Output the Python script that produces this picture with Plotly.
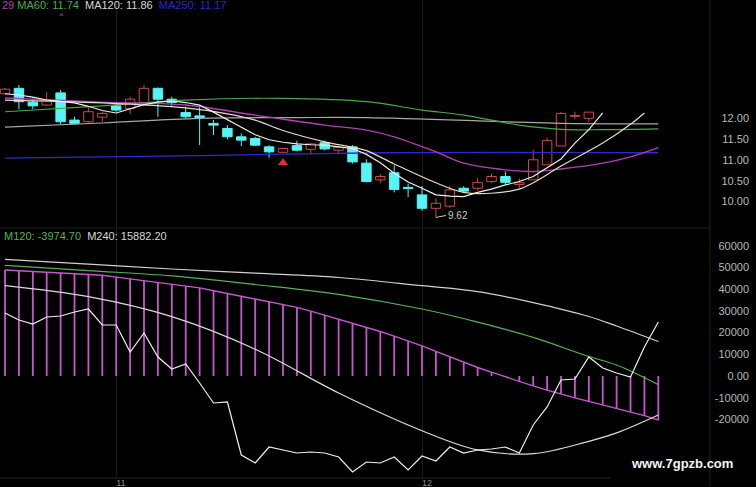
import plotly.graph_objects as go

# ---------------- upper panel: daily candles (bars 43-47 lie above the visible area) ----------------
candle_idx = list(range(43))
opens  = [12.58, 12.71, 12.38, 12.31, 12.60, 11.95, 11.91, 12.02, 12.29, 12.23, 12.37, 12.71, 12.45, 12.13,
          12.05, 11.87, 11.75, 11.55, 11.51, 11.31, 11.18, 11.34, 11.25, 11.41, 11.23, 11.31, 10.92, 10.52,
          10.69, 10.34, 10.16, 9.84, 9.89, 10.32, 10.32, 10.48, 10.60, 10.41, 10.52, 10.88, 11.33, 12.04, 11.99]
highs  = [12.72, 12.79, 12.47, 12.62, 12.67, 12.03, 12.26, 12.15, 12.39, 12.51, 12.79, 12.73, 12.51, 12.27,
          12.31, 11.95, 11.83, 11.63, 11.55, 11.35, 11.29, 11.46, 11.40, 11.46, 11.31, 11.35, 11.01, 10.66,
          10.87, 10.43, 10.37, 10.08, 10.37, 10.37, 10.56, 10.67, 10.72, 10.56, 11.24, 11.52, 12.14, 12.15, 12.14]
lows   = [12.56, 12.21, 12.21, 12.29, 11.85, 11.85, 11.89, 11.91, 12.15, 12.09, 12.35, 12.03, 12.29, 11.99,
          11.35, 11.59, 11.49, 11.33, 11.33, 11.05, 11.16, 11.20, 11.12, 11.23, 11.16, 10.91, 10.46, 10.44,
          10.22, 10.11, 9.78, 9.62, 9.85, 10.20, 10.27, 10.44, 10.40, 10.32, 10.52, 10.88, 11.33, 11.97, 11.91]
closes = [12.69, 12.39, 12.29, 12.43, 11.91, 11.87, 12.15, 12.11, 12.19, 12.45, 12.71, 12.45, 12.37, 12.03,
          12.01, 11.83, 11.55, 11.47, 11.35, 11.19, 11.27, 11.23, 11.38, 11.26, 11.30, 10.95, 10.48, 10.60,
          10.29, 10.31, 9.84, 9.96, 10.28, 10.25, 10.46, 10.60, 10.46, 10.45, 11.00, 11.46, 12.11, 12.06, 12.14]

ma5_idx = list(range(44))
ma5_val = [12.58, 12.55, 12.50, 12.43, 12.40, 12.36, 12.28, 12.18, 12.12, 12.22, 12.32, 12.38, 12.41, 12.37,
           12.31, 12.14, 11.95, 11.78, 11.60, 11.48, 11.42, 11.38, 11.36, 11.35, 11.31, 11.27, 11.13, 10.93,
           10.68, 10.47, 10.32, 10.16, 10.13, 10.12, 10.22, 10.30, 10.40, 10.48, 10.60, 10.80, 11.02, 11.40,
           11.72, 12.12]
ma10_idx = [0, 7, 13, 16, 18, 20, 23, 25, 26, 28, 31, 33, 35, 37, 38, 40, 43, 45, 46]
ma10_val = [12.43, 12.36, 12.24, 12.10, 11.95, 11.70, 11.43, 11.30, 11.22, 10.90, 10.45, 10.22, 10.20,
            10.30, 10.45, 10.85, 11.40, 11.85, 12.12]
ma30_idx = [0, 7, 13, 18, 23, 26, 28, 31, 33, 36, 38, 40, 43, 45, 47]
ma30_val = [12.48, 12.38, 12.31, 12.07, 11.83, 11.71, 11.55, 11.19, 10.92, 10.76, 10.72, 10.78, 10.92, 11.07, 11.29]
ma60_idx = [0, 7, 13, 20, 26, 30, 33, 37, 40, 43, 47]
ma60_val = [12.15, 12.29, 12.43, 12.47, 12.39, 12.19, 12.07, 11.83, 11.73, 11.72, 11.74]
ma120_idx = [0, 7, 14, 21, 26, 36, 40, 47]
ma120_val = [11.78, 11.88, 11.99, 12.01, 12.01, 11.91, 11.87, 11.86]
ma250_idx = [0, 14, 27, 47]
ma250_val = [11.04, 11.10, 11.17, 11.17]

signal_idx = [20]
signal_price = [10.93]
low_idx, low_price = 31, 9.62

price_ticks = [10.0, 10.5, 11.0, 11.5, 12.0]

# ---------------- lower panel ----------------
hist = [48840, 48430, 48100, 47780, 47460, 47140, 46820, 46400, 45570, 44740, 43910, 43090, 42260, 41430,
        40600, 39310, 38020, 36730, 35480, 34190, 32900, 31610, 29910, 28060, 26270, 24420, 22580, 20510,
        18340, 16130, 13920, 11340, 8800, 6220, 3920, 1750, -410, -2580, -4560, -6500, -8430, -10050,
        -11700, -13360, -15020, -16540, -18250, -20370]
fast = [29030, 25800, 23960, 27190, 27650, 29490, 30870, 23500, 23500, 11060, 19810, 8760, 3230, 5530,
        -3230, -12440, -11980, -36400, -40090, -32720, -34100, -35480, -35020, -35480, -37320, -44240,
        -39630, -40090, -37320, -43320, -36860, -39170, -32720, -35480, -34100, -33640, -32720, -35480,
        -22580, -14280, -1840, -1380, 8760, 3690, 1380, -460, 13360, 24880]
slow_idx = [0, 6, 12, 18, 24, 30, 34, 38, 42, 44, 47]
slow_val = [41610, 36540, 27330, 12350, -7830, -25210, -34050, -35800, -30090, -26220, -17970]
m240_idx = [0, 6, 12, 18, 24, 30, 34, 38, 42, 44, 47]
m240_val = [53780, 51560, 49310, 47370, 45390, 41610, 38890, 33820, 27420, 23040, 15882.20]
m120_idx = [0, 6, 12, 18, 24, 30, 34, 38, 42, 44, 47]
m120_val = [51010, 48570, 46130, 42160, 37650, 30870, 24840, 17790, 8990, 5070, -3974.70]

low_ticks = [-20000, -10000, 0, 10000, 20000, 30000, 40000, 50000, 60000]
low_tick_text = ["-20000", "-10000", "0.00", "10000", "20000", "30000", "40000", "50000", "60000"]

month_idx = [8, 30]
month_text = ["11", "12"]

FONT = "Liberation Sans, Arial, sans-serif"
RED, CYAN = "#d04848", "#55f5f5"

fig = go.Figure()

# ---- candles: bodies as bars, wicks as line segments ----
for up, color, fill in ((True, RED, "#000000"), (False, CYAN, CYAN)):
    xs, base, height = [], [], []
    wx, wy = [], []
    for i, o, h, l, c in zip(candle_idx, opens, highs, lows, closes):
        if (c >= o) != up:
            continue
        lo_b, hi_b = min(o, c), max(o, c)
        xs.append(i)
        base.append(lo_b)
        height.append(max(hi_b - lo_b, 0.004))
        wx += [i, i, None, i, i, None]
        wy += [h, hi_b, None, lo_b, l, None]
    fig.add_trace(go.Scatter(x=wx, y=wy, mode="lines", line=dict(color=color, width=1),
                             xaxis="x", yaxis="y", showlegend=False, hoverinfo="skip"))
    fig.add_trace(go.Bar(x=xs, y=height, base=base, width=0.68,
                         marker=dict(color=fill, line=dict(color=color, width=1)),
                         xaxis="x", yaxis="y", showlegend=False, hoverinfo="skip"))

def line(xs, ys, color, width=1.2, axis=("x", "y"), shape="spline"):
    fig.add_trace(go.Scatter(x=xs, y=ys, mode="lines", line=dict(color=color, width=width, shape=shape),
                             xaxis=axis[0], yaxis=axis[1], showlegend=False, hoverinfo="skip"))

line(ma250_idx, ma250_val, "#2a2ad0", 1.4)
line(ma120_idx, ma120_val, "#a8a8a8")
line(ma60_idx, ma60_val, "#48a848")
line(ma30_idx, ma30_val, "#b040b0", 1.4)
line(ma10_idx, ma10_val, "#e4dcc0")
line(ma5_idx, ma5_val, "#f0f0f0", 1.2, shape="linear")

fig.add_trace(go.Scatter(x=signal_idx, y=signal_price, mode="markers",
                         marker=dict(symbol="triangle-up", size=9, color="#e03030", line=dict(width=0)),
                         xaxis="x", yaxis="y", showlegend=False, hoverinfo="skip"))

# lower panel
hx, hy = [], []
for i, v in enumerate(hist):
    hx += [i, i, None]
    hy += [0, v, None]
fig.add_trace(go.Scatter(x=hx, y=hy, mode="lines", line=dict(color="#c458cc", width=1.8),
                         xaxis="x2", yaxis="y2", showlegend=False, hoverinfo="skip"))
line(list(range(len(hist))), hist, "#c458cc", 1.4, ("x2", "y2"), "linear")
line(m240_idx, m240_val, "#d0d0d0", 1.2, ("x2", "y2"))
line(m120_idx, m120_val, "#58b058", 1.2, ("x2", "y2"))
line(slow_idx, slow_val, "#dcdcd0", 1.2, ("x2", "y2"))
line(list(range(len(fast))), fast, "#eeeeee", 1.2, ("x2", "y2"), "linear")

H = 487.0
def py(px):
    return 1 - px / H

# axis geometry
xr = [-0.36, 53.74]
up_dom = [py(228), 1.0]
up_rng = [12 - (228 - 118) / 41.8, 12 + 118 / 41.8]
lo_dom = [py(476), py(229)]
lo_rng = [(376 - 476) * 460.8, (376 - 229) * 460.8]

tickfont = dict(family=FONT, size=11, color="#b8b8b8")

fig.update_layout(
    width=756, height=487,
    margin=dict(l=0, r=4, t=0, b=0),
    paper_bgcolor="#000000", plot_bgcolor="#000000",
    showlegend=False, barmode="overlay",
    xaxis=dict(domain=[0, 1], range=xr, anchor="y", showticklabels=False, zeroline=False,
               showgrid=True, gridcolor="#1c1c1c", gridwidth=1, tickvals=month_idx, ticks="",
               showline=False),
    yaxis=dict(domain=up_dom, range=up_rng, side="right", ticklabelposition="inside",
               tickvals=price_ticks, tickformat=".2f", tickfont=tickfont, showgrid=False,
               zeroline=False, ticks="", showline=False),
    xaxis2=dict(domain=[0, 1], range=xr, anchor="y2", matches="x", zeroline=False,
                showgrid=True, gridcolor="#1c1c1c", gridwidth=1, tickvals=month_idx, ticktext=month_text,
                ticks="", ticklabelposition="outside right",
                tickfont=dict(family=FONT, size=9, color="#8a8a8a"), showline=False),
    yaxis2=dict(domain=lo_dom, range=lo_rng, side="right", anchor="x2", ticklabelposition="inside",
                tickvals=low_ticks, ticktext=low_tick_text, tickfont=tickfont, showgrid=False,
                zeroline=False, ticks="", showline=False),
)

# separators
sep_x = 710 / 752
fig.add_shape(type="line", xref="paper", yref="paper", x0=sep_x, x1=sep_x, y0=0, y1=1,
              line=dict(color="#2a2020", width=1))
fig.add_shape(type="line", xref="paper", yref="paper", x0=0, x1=sep_x, y0=py(228), y1=py(228),
              line=dict(color="#1c1c1c", width=1))
fig.add_shape(type="line", xref="paper", yref="paper", x0=0, x1=610 / 752, y0=py(478), y1=py(478),
              line=dict(color="#222222", width=1))

NB = "\u00a0"
top_text = ("<span style='color:#b040b0'>29</span>" + NB +
            "<span style='color:#48b048'>MA60: 11.74</span>" + NB * 2 +
            "<span style='color:#d8d8d8'>MA120: 11.86</span>" + NB * 2 +
            "<span style='color:#2828d0'>MA250: 11.17</span>")
fig.add_annotation(xref="paper", yref="paper", x=0, y=py(5), xanchor="left", yanchor="middle",
                   text=top_text, showarrow=False, font=dict(family=FONT, size=11, color="#d8d8d8"))
fig.add_annotation(xref="paper", yref="paper", x=61 / 752, y=py(15), xanchor="center", yanchor="middle",
                   text="×", showarrow=False, font=dict(family=FONT, size=8, color="#b040b0"))

low_text = ("<span style='color:#58b058'>M120: -3974.70</span>" + NB * 2 +
            "<span style='color:#d8d8d8'>M240: 15882.20</span>")
fig.add_annotation(xref="paper", yref="paper", x=0.002, y=py(236), xanchor="left", yanchor="middle",
                   text=low_text, showarrow=False, font=dict(family=FONT, size=11, color="#d8d8d8"))

fig.add_annotation(xref="x", yref="y", x=low_idx, y=low_price, text=f"{low_price:.2f}",
                   showarrow=True, arrowhead=0, arrowwidth=1, arrowcolor="#c8c8c8", ax=10, ay=-2,
                   xanchor="left", yanchor="middle", standoff=0,
                   font=dict(family=FONT, size=10, color="#c8c8c8"))

fig.add_annotation(xref="paper", yref="paper", x=682 / 752, y=py(463), xanchor="center", yanchor="middle",
                   text="<b>www.7gpzb.com</b>", showarrow=False,
                   font=dict(family=FONT, size=13, color="#f4f4f4"))

fig.write_html("out.html", config={"displayModeBar": False},
               post_script="document.body.style.margin='0';document.body.style.background='#000';"
                           "document.body.style.overflow='hidden';")
